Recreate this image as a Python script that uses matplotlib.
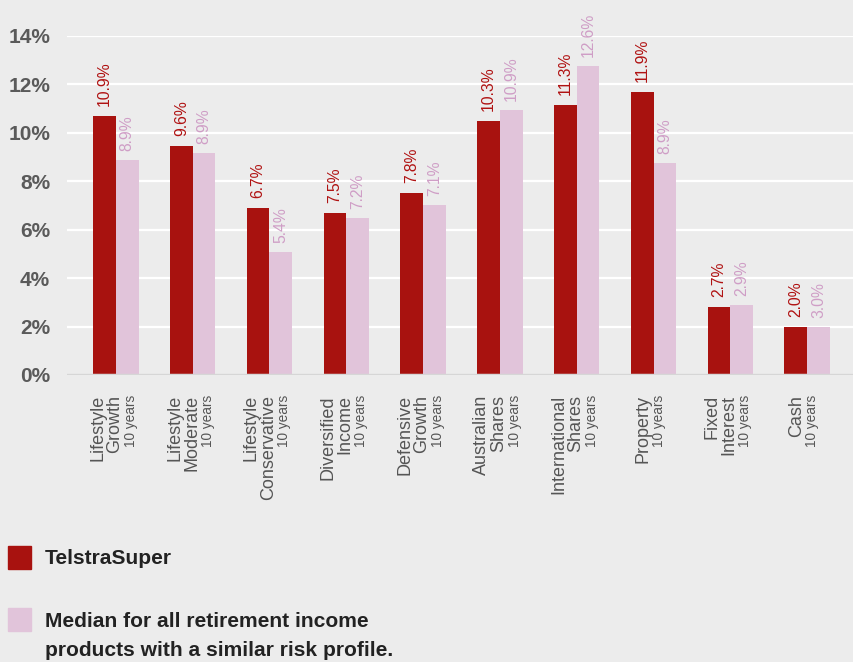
import matplotlib
matplotlib.use("Agg")
import matplotlib.pyplot as plt
import numpy as np
from matplotlib.patches import Rectangle

plt.rcParams["font.family"] = ["Liberation Sans", "DejaVu Sans"]

# categories (main label lines) and period
categories = [
    ["Lifestyle", "Growth"],
    ["Lifestyle", "Moderate"],
    ["Lifestyle", "Conservative"],
    ["Diversified", "Income"],
    ["Defensive", "Growth"],
    ["Australian", "Shares"],
    ["International", "Shares"],
    ["Property"],
    ["Fixed", "Interest"],
    ["Cash"],
]
period = "10 years"

# bar heights as drawn in the reference (%)
telstra = [10.7, 9.46, 6.9, 6.69, 7.52, 10.5, 11.12, 11.69, 2.81, 1.98]
median = [8.88, 9.17, 5.08, 6.49, 7.02, 10.95, 12.77, 8.76, 2.89, 1.98]

# value labels as printed in the reference
telstra_labels = ["10.9%", "9.6%", "6.7%", "7.5%", "7.8%", "10.3%", "11.3%", "11.9%", "2.7%", "2.0%"]
median_labels = ["8.9%", "8.9%", "5.4%", "7.2%", "7.1%", "10.9%", "12.6%", "8.9%", "2.9%", "3.0%"]

yticks = [0, 2, 4, 6, 8, 10, 12, 14]

legend_names = ["TelstraSuper",
                "Median for all retirement income\nproducts with a similar risk profile."]

BG = "#ececec"
DARK = "#a8120f"
PINK = "#e1c4da"
DARK_TXT = "#b01212"
PINK_TXT = "#cf9ec6"

W, H = 854, 662
fig = plt.figure(figsize=(W / 100, H / 100), dpi=100, facecolor=BG)
ax = fig.add_axes([66.7 / W, 1 - 375 / H, (W - 66.7) / W, (375 - 35.7) / H])
ax.set_facecolor(BG)

x = np.arange(len(categories))
bw = 0.295
ax.bar(x - bw / 2, telstra, bw, color=DARK, zorder=3)
ax.bar(x + bw / 2, median, bw, color=PINK, zorder=3)

for xi, v, lab in zip(x, telstra, telstra_labels):
    ax.annotate(lab, (xi - bw / 2, v), xytext=(0, 10), textcoords="offset pixels",
                rotation=90, ha="center", va="bottom", fontsize=11.3,
                color=DARK_TXT, annotation_clip=False)
for xi, v, lab in zip(x, median, median_labels):
    ax.annotate(lab, (xi + bw / 2, v), xytext=(0, 9), textcoords="offset pixels",
                rotation=90, ha="center", va="bottom", fontsize=11.3,
                color=PINK_TXT, annotation_clip=False)

ax.set_xlim(-0.64, 9.61)
ax.set_ylim(0, 14)
ax.set_yticks(yticks)
ax.set_yticklabels([f"{t}%" for t in yticks], fontsize=15, fontweight="bold", color="#5a5a5a")
ax.tick_params(axis="y", length=0, pad=12)
ax.set_xticks([])
ax.grid(axis="y", color="white", linewidth=1.6, zorder=0)
ax.axhline(0, color="#d6d6d6", linewidth=2.5, zorder=4)
for s in ax.spines.values():
    s.set_visible(False)

# category labels: main lines + smaller period line, rotated
for xi, lines in zip(x, categories):
    if len(lines) == 2:
        offs = [-18, -1]
        small = 15
    else:
        offs = [-11]
        small = 5
    for o, t in zip(offs, lines):
        ax.annotate(t, (xi, 0), xytext=(o, -20), textcoords="offset pixels",
                    rotation=90, ha="center", va="top", fontsize=13,
                    color="#555555", annotation_clip=False)
    ax.annotate(period, (xi, 0), xytext=(small, -20), textcoords="offset pixels",
                rotation=90, ha="center", va="top", fontsize=9.8,
                color="#555555", annotation_clip=False)

# legend
for (ysq, col), name, ytxt in zip([(546, DARK), (608, PINK)], legend_names, [558, 636]):
    fig.patches.append(Rectangle((8 / W, 1 - (ysq + 23) / H), 23 / W, 23 / H,
                                 transform=fig.transFigure, color=col))
    fig.text(45 / W, 1 - ytxt / H, name, fontsize=15.1, fontweight="bold",
             color="#222222", va="center", ha="left", linespacing=1.68)

fig.savefig("out.png", dpi=100, facecolor=BG)
